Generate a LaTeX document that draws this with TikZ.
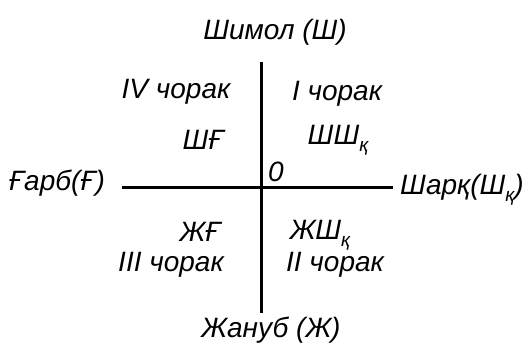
\documentclass[tikz,border=0pt]{standalone}
\usepackage{fontspec}
\setmainfont{Liberation Sans}
\newcommand{\lowk}{\raisebox{-0.45ex}{\fontsize{19}{19}\selectfont қ}}
\begin{document}
\begin{tikzpicture}[x=1pt,y=1pt,
  lbl/.style={inner sep=0pt, font=\fontsize{28}{30}\selectfont\itshape},
  axis/.style={line width=3pt}]
\useasboundingbox (0,0) rectangle (525,356);
% labels (y = 356 - pixel y)
\node[lbl] (north) at (275,324) {Шимол (Ш)};
\node[lbl] (q4) at (176,264) {IV чорак};
\node[lbl] (sf) at (203,216) {ШҒ};
\node[lbl] (q1) at (337,262) {I чорак};
\node[lbl] (ssk) at (338,216) {ШШ\lowk};
\node[lbl] (zero) at (276,184) {0};
\node[lbl] (west) at (57,173) {Ғарб(Ғ)};
\node[lbl] (east) at (462,166) {Шарқ(Ш\lowk)};
\node[lbl] (jf) at (200,124) {ЖҒ};
\node[lbl] (q3) at (171,91) {III чорак};
\node[lbl] (jsk) at (320,121) {ЖШ\lowk};
\node[lbl] (q2) at (335,91) {II чорак};
\node[lbl] (south) at (271,26) {Жануб (Ж)};
% axes
\coordinate (ntop) at (261,294);
\coordinate (sbot) at (261,43);
\coordinate (wend) at (122,168);
\coordinate (eend) at (393,168);
\draw[axis] (ntop) -- (sbot);
\draw[axis] (wend) -- (eend);
\end{tikzpicture}
\end{document}
